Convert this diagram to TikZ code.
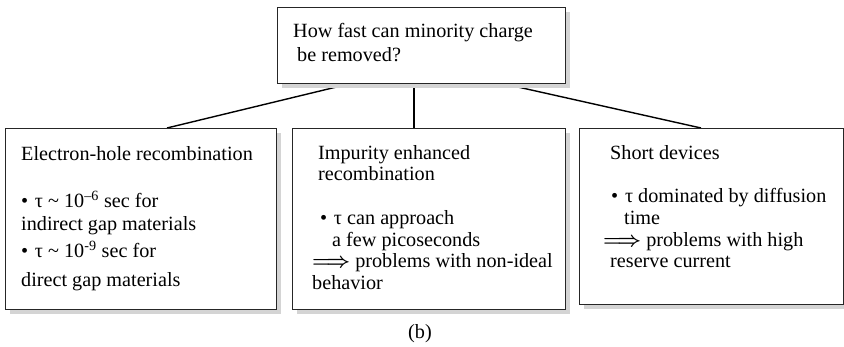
\documentclass[tikz,border=0pt]{standalone}
\usepackage{fontspec}
\setmainfont{Liberation Serif}
\usetikzlibrary{calc}
\newcommand{\dblarrow}{{\boldmath$\Longrightarrow$}}
\begin{document}
\begin{tikzpicture}[x=1pt,y=-1pt,
  box/.style={draw=black!85, line width=1.1pt, fill=white, anchor=north west, inner sep=0pt},
  shadowbox/.style={fill=black!17, draw=none, anchor=north west, inner sep=0pt},
  link/.style={line width=1.4pt},
  txt/.style={anchor=base west, inner sep=0pt, text height=13pt, text depth=4pt, font=\fontsize{20.2}{23}\selectfont}]
\useasboundingbox (0,0) rectangle (844,347);
% connector end points
\coordinate (t1) at (353,83);
\coordinate (t2) at (414,83);
\coordinate (t3) at (500,83);
\coordinate (b1) at (167,128);
\coordinate (b2) at (414,128);
\coordinate (b3) at (701,128);
\draw[link] (t1) -- (b1);
\draw[link] (t2) -- (b2);
\draw[link] (t3) -- (b3);
% shadows
\node[shadowbox, minimum width=288pt, minimum height=76pt] (tops) at (282,12) {};
\node[shadowbox, minimum width=271pt, minimum height=181pt] (lefts) at (10,133) {};
\node[shadowbox, minimum width=273pt, minimum height=181pt] (mids) at (297,133) {};
\node[shadowbox, minimum width=264pt, minimum height=176pt] (rights) at (584,133) {};
% boxes
\node[box, minimum width=288pt, minimum height=76pt] (top) at (277,7) {};
\node[box, minimum width=271pt, minimum height=181pt] (left) at (5,128) {};
\node[box, minimum width=273pt, minimum height=181pt] (mid) at (292,128) {};
\node[box, minimum width=264pt, minimum height=176pt] (right) at (579,128) {};
% top text
\node[txt] (q1) at (293,38) {How fast can minority charge};
\node[txt] (q2) at (297,62) {be removed?};
% left text
\node[txt] (l1) at (21,161) {Electron-hole recombination};
\node[txt] (l2) at (21,208) {•\,\,τ \textasciitilde{} 10\textsuperscript{–6} sec for};
\node[txt] (l3) at (21,231) {indirect gap materials};
\node[txt] (l4) at (21,258) {•\,\,τ \textasciitilde{} 10\textsuperscript{-9} sec for};
\node[txt] (l5) at (21,287) {direct gap materials};
% middle text
\node[txt] (m1) at (318,160) {Impurity enhanced};
\node[txt] (m2) at (318,181) {recombination};
\node[txt] (m3) at (320,225) {•\,\,τ can approach};
\node[txt] (m4) at (332,247) {a few picoseconds};
\node[txt] (m5) at (312,268) {\dblarrow{} problems with non-ideal};
\node[txt] (m6) at (312,290) {behavior};
% right text
\node[txt] (r1) at (610,160) {Short devices};
\node[txt] (r2) at (611,203) {•\,\,τ dominated by diffusion};
\node[txt] (r3) at (624,225) {time};
\node[txt] (r4) at (603,247) {\dblarrow{} problems with high};
\node[txt] (r5) at (610,268) {reserve current};
% caption
\node[txt, anchor=base] (cap) at (420,339) {(b)};
\end{tikzpicture}
\end{document}
